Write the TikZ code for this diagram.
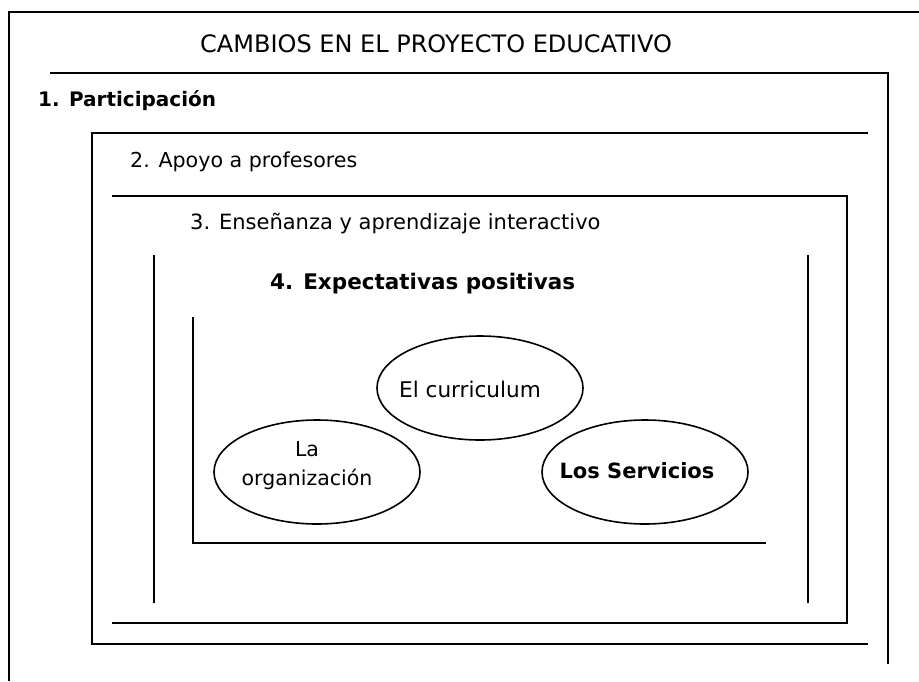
\documentclass[tikz,border=0pt]{standalone}
\usepackage{fontspec}
\setmainfont{DejaVu Sans}
\usetikzlibrary{shapes.geometric}
\begin{document}
\begin{tikzpicture}[x=1pt,y=-1pt,
  outerline/.style={line width=2.6pt},
  boxline/.style={line width=2pt},
  label/.style={anchor=west,inner sep=0pt},
  bubble/.style={ellipse,draw,line width=1.6pt,minimum width=206pt,minimum height=104pt,inner sep=0pt},
  bubbletext/.style={inner sep=0pt,align=center,font=\fontsize{20.5}{29}\selectfont}]
\useasboundingbox (0,0) rectangle (919,681);
\fill[white] (0,0) rectangle (919,681);
% frames
\draw[outerline] (9,681) -- (9,12) -- (919,12);
\draw[boxline] (50,73) -- (888,73) -- (888,664);
\draw[boxline] (868,133) -- (92,133) -- (92,644) -- (868,644);
\draw[boxline] (112,196) -- (847,196) -- (847,623) -- (112,623);
\draw[boxline] (154,255) -- (154,603);
\draw[boxline] (808,255) -- (808,603);
\draw[boxline] (193,317) -- (193,543) -- (766,543);
% texts
\node[label,font=\fontsize{24}{28}\selectfont] (title) at (200,44) {CAMBIOS EN EL PROYECTO EDUCATIVO};
\node[label,font=\fontsize{20}{24}\selectfont\bfseries] (p1) at (38,101) {1. Participación};
\node[label,font=\fontsize{20.6}{24}\selectfont] (p2) at (130,162) {2. Apoyo a profesores};
\node[label,font=\fontsize{21}{24}\selectfont] (p3) at (190,224) {3. Enseñanza y aprendizaje interactivo};
\node[label,font=\fontsize{21.5}{24}\selectfont\bfseries] (p4) at (270,284) {4. Expectativas positivas};
% ellipses
\node[bubble] (curr) at (480,388) {};
\node[bubble] (org) at (317,472) {};
\node[bubble] (serv) at (645,472) {};
\node[bubbletext,font=\fontsize{21.6}{29}\selectfont] (currtext) at (470,389) {El curriculum};
\node[bubbletext] (orgtext) at (307,466) {La\\organización};
\node[bubbletext,font=\fontsize{21}{29}\selectfont\bfseries] (servtext) at (637,471) {Los Servicios};
\end{tikzpicture}
\end{document}
